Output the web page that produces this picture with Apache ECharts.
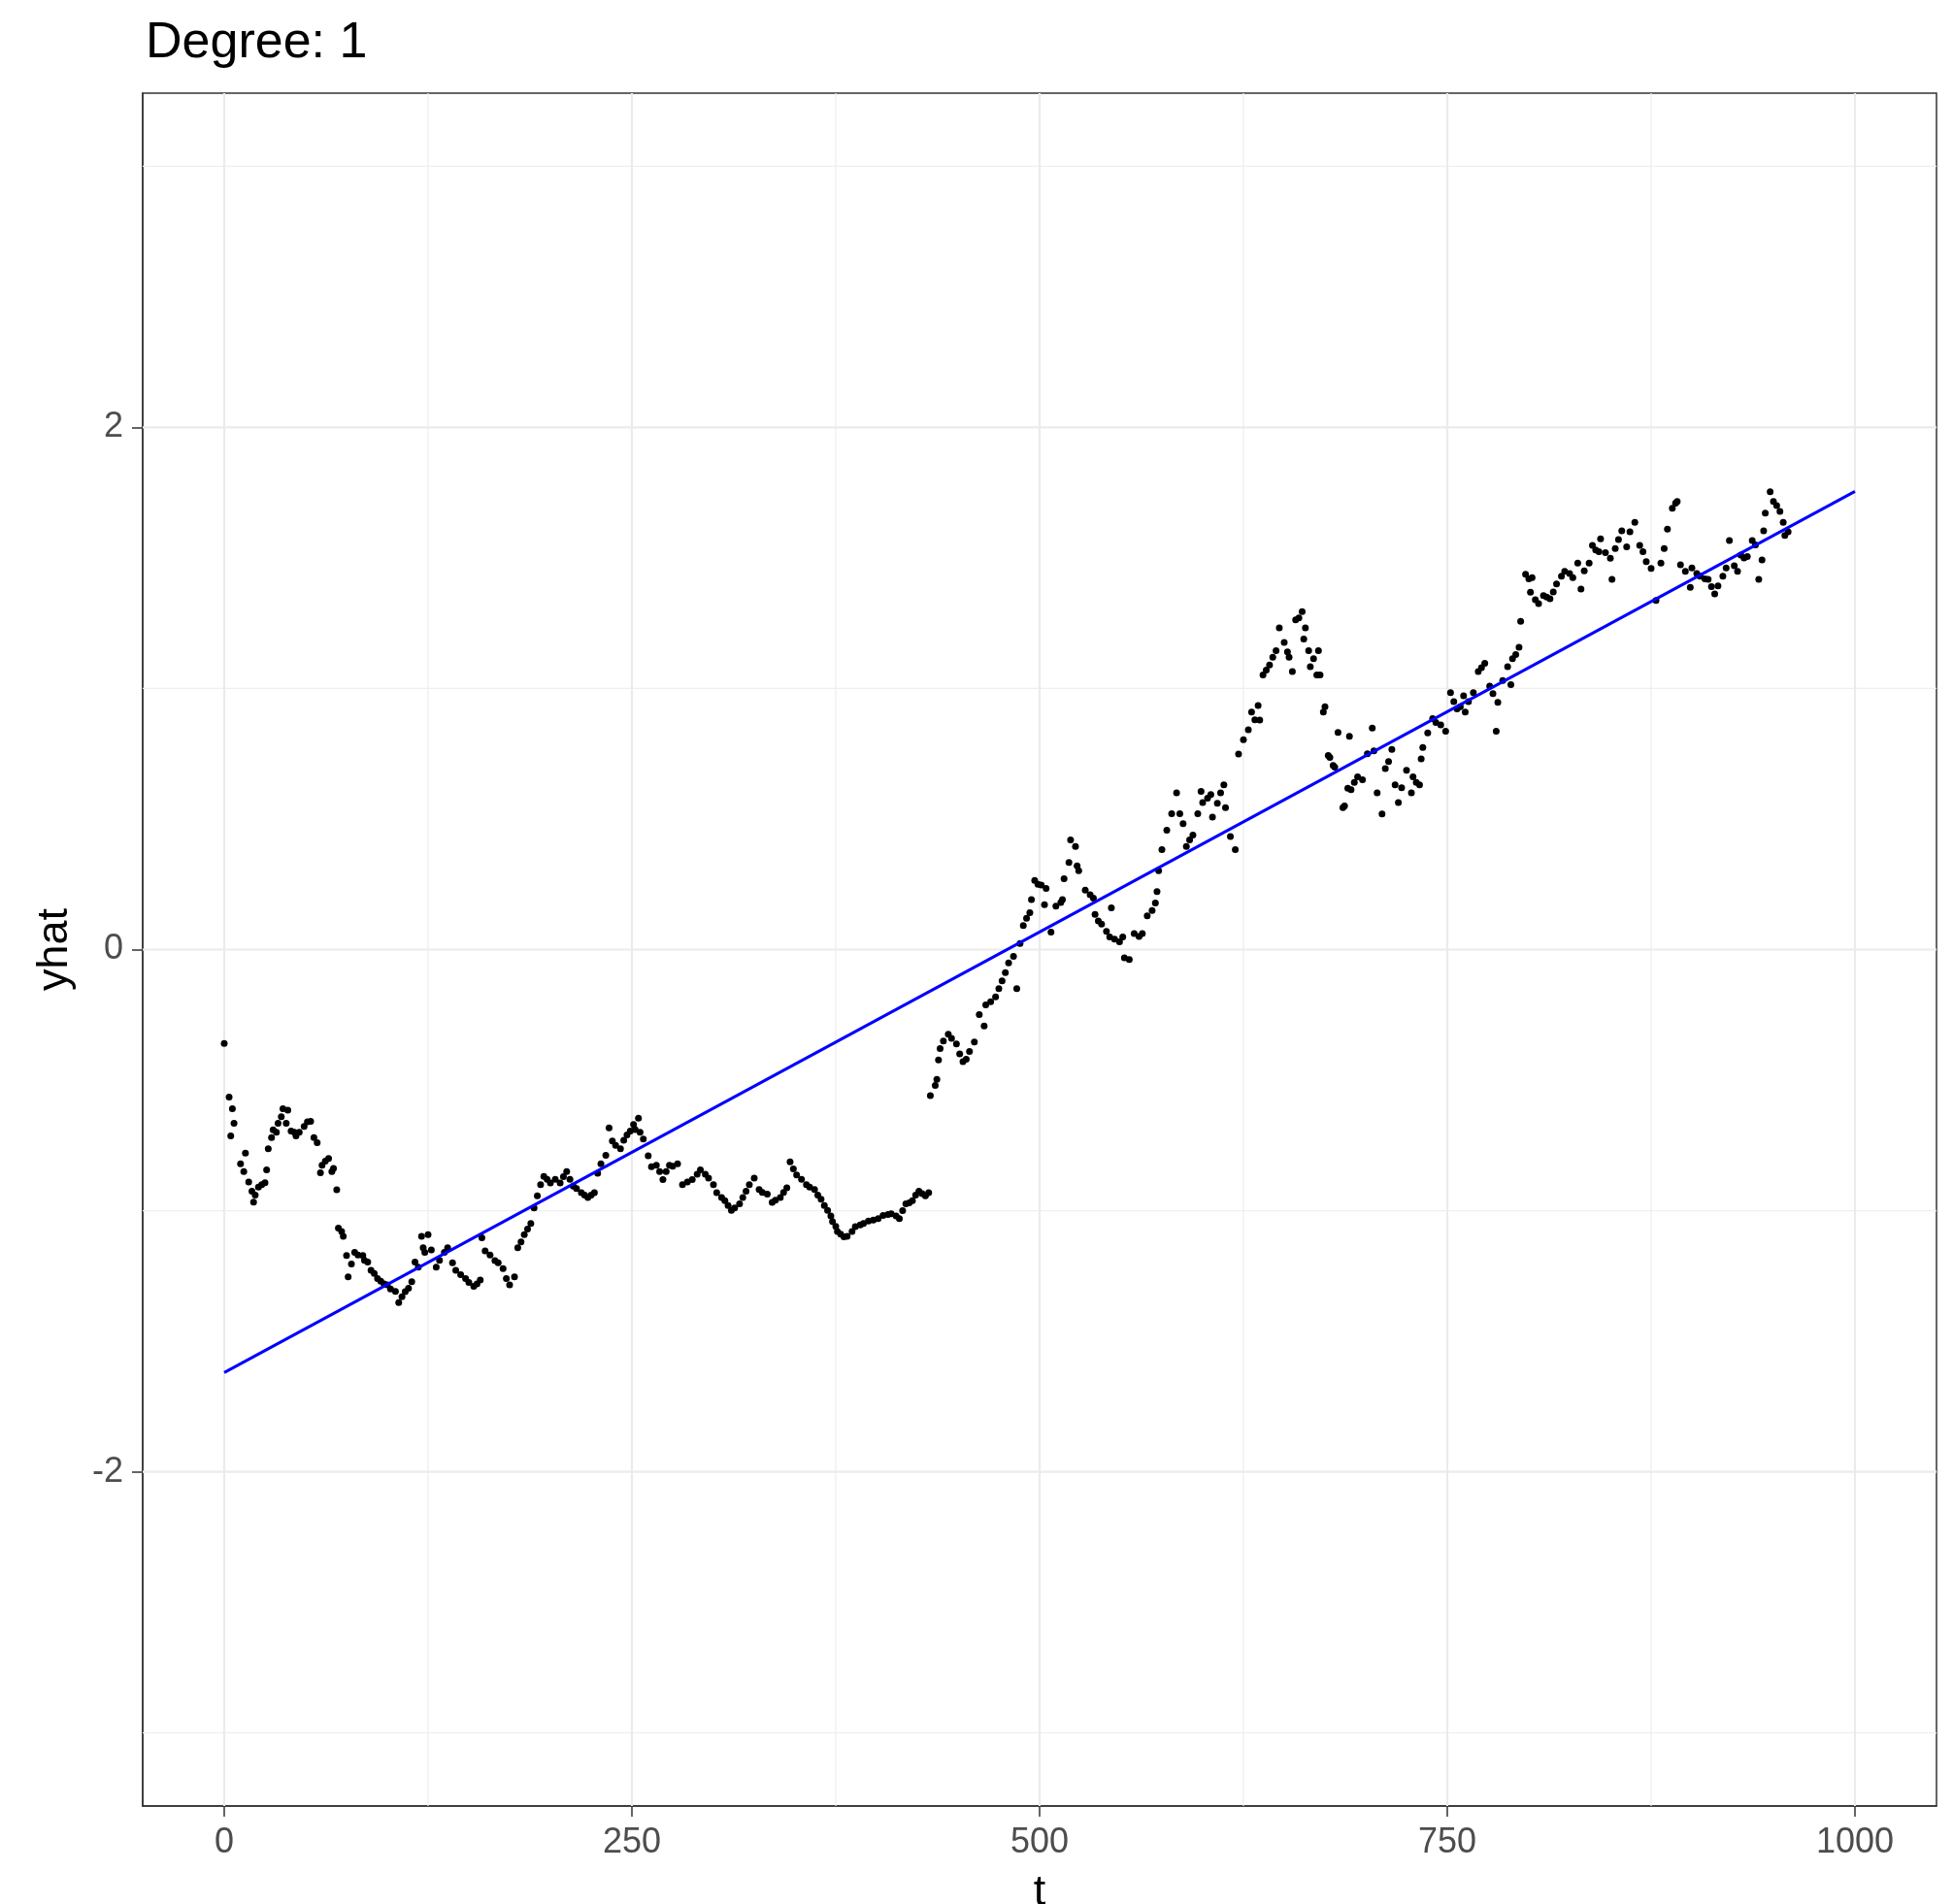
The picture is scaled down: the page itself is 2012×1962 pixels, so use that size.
<!DOCTYPE html>
<html><head><meta charset="utf-8">
<script src="https://cdn.jsdelivr.net/npm/echarts@6/dist/echarts.min.js"></script>
<style>html,body{margin:0;padding:0;background:#fff}#c{width:2012px;height:1962px}</style>
</head><body><div id="c"></div>
<script>
const titleText = 'Degree: 1';
const xName = 't';
const yName = 'yhat';
const xTicks = [0, 250, 500, 750, 1000];
const yTicks = [-2, 0, 2];
const xMinorGrid = [125, 375, 625, 875];
const yMinorGrid = [-3, -1, 1, 3];
const xLimits = [-50, 1050];
const yLimits = [-3.28, 3.28];

// points, in segments
const tA = [0,3,4,5,6,10,12,13,15,17,18,19,21,23,25,26,27,29,30,32,33,35,36,38,39,41,43,44,46,49,51,53,55,57,59,60,62,64,66,67,69,70,72,73,75,76,78,80,82,85,86,88,90,92,94,96,98,100,102,105,107,109,111,113,115,117];
const yA = [-0.36,-0.565,-0.714,-0.61,-0.665,-0.82,-0.85,-0.78,-0.89,-0.925,-0.967,-0.94,-0.91,-0.90,-0.893,-0.844,-0.763,-0.72,-0.69,-0.70,-0.665,-0.64,-0.61,-0.665,-0.615,-0.695,-0.70,-0.714,-0.70,-0.677,-0.66,-0.658,-0.72,-0.74,-0.855,-0.826,-0.81,-0.80,-0.85,-0.838,-0.92,-1.067,-1.08,-1.098,-1.172,-1.253,-1.204,-1.16,-1.17,-1.172,-1.19,-1.197,-1.228,-1.24,-1.26,-1.27,-1.28,-1.284,-1.30,-1.309,-1.352,-1.33,-1.31,-1.297,-1.272,-1.197];
const tB = [119,121,122,123,125,127,130,132,135,137,140,142,145,148,150,153,155,157,158,160,163,166,168,171,173,175,178,180,182,184,186,188,190,192,194,196,198,200,203,206,208,210,212,214,216,219,221,223,225,227,229,231,234,236,238,240,243,245,247,249];
const yB = [-1.216,-1.098,-1.142,-1.16,-1.092,-1.15,-1.216,-1.19,-1.16,-1.142,-1.20,-1.228,-1.245,-1.26,-1.275,-1.29,-1.28,-1.266,-1.104,-1.154,-1.17,-1.191,-1.20,-1.222,-1.26,-1.284,-1.253,-1.142,-1.12,-1.092,-1.07,-1.049,-0.99,-0.943,-0.90,-0.869,-0.88,-0.894,-0.88,-0.894,-0.87,-0.85,-0.88,-0.906,-0.915,-0.931,-0.94,-0.95,-0.94,-0.931,-0.857,-0.82,-0.788,-0.683,-0.733,-0.75,-0.763,-0.73,-0.71,-0.695];
const tC = [251,252,254,255,257,260,262,265,267,269,271,273,275,278,281,284,287,290,292,295,297,300,302,305,307,309,311,313,316,318,320,322,325,328,330,333,336,338,341,343,345,347,349,351,354,357,359,362,364,366,368,370,372,373,375,376,378,380,382,385,387,390,392,395,398,401,404,407,409,412,414,416,418,420,422,424,426,428,430,432];
const yC = [-0.67,-0.689,-0.646,-0.70,-0.726,-0.79,-0.832,-0.826,-0.85,-0.881,-0.85,-0.826,-0.83,-0.82,-0.90,-0.89,-0.881,-0.86,-0.844,-0.86,-0.875,-0.90,-0.931,-0.95,-0.962,-0.98,-0.999,-0.99,-0.974,-0.95,-0.925,-0.90,-0.875,-0.919,-0.93,-0.937,-0.968,-0.96,-0.95,-0.93,-0.912,-0.813,-0.84,-0.863,-0.88,-0.90,-0.91,-0.919,-0.94,-0.956,-0.98,-0.999,-1.02,-1.042,-1.06,-1.08,-1.09,-1.10,-1.098,-1.08,-1.061,-1.055,-1.049,-1.04,-1.036,-1.03,-1.018,-1.015,-1.012,-1.02,-1.03,-1.00,-0.974,-0.97,-0.962,-0.94,-0.925,-0.935,-0.943,-0.931];
const tD = [433,436,437,438,439,441,444,446,449,451,453,455,457,460,463,466,467,470,473,475,477,479,481,484,486,488,490,492,494,495,497,499,501,503,504,507,510,513,514,515,518,519,522,523,524,528,531,533,534,536,538,541,543,544,546,549,551];
const yD = [-0.559,-0.52,-0.497,-0.423,-0.379,-0.35,-0.324,-0.34,-0.361,-0.40,-0.429,-0.42,-0.39,-0.354,-0.249,-0.293,-0.212,-0.20,-0.181,-0.15,-0.12,-0.088,-0.051,-0.026,-0.15,0.023,0.092,0.12,0.141,0.191,0.265,0.25,0.247,0.172,0.234,0.067,0.166,0.18,0.191,0.271,0.334,0.42,0.395,0.321,0.302,0.228,0.21,0.197,0.135,0.11,0.098,0.07,0.048,0.16,0.04,0.03,0.048];
const tE = [552,555,558,561,563,566,569,571,572,573,575,578,581,584,586,588,590,592,594,597,599,600,603,605,606,609,611,613,614,617,620,622,625,628,630,632,634,635,637,639,641,643,645,647,650,652,653,655,657,659,661,662,663,665,666,668,670,671,672,674,675,677,678,680,681,683,686,687,689];
const yE = [-0.032,-0.038,0.061,0.05,0.061,0.129,0.15,0.178,0.222,0.302,0.383,0.457,0.52,0.6,0.52,0.482,0.395,0.42,0.439,0.52,0.606,0.563,0.58,0.594,0.507,0.56,0.60,0.631,0.544,0.433,0.383,0.749,0.804,0.842,0.91,0.88,0.935,0.879,1.052,1.07,1.09,1.12,1.145,1.232,1.176,1.14,1.12,1.065,1.263,1.27,1.294,1.189,1.232,1.145,1.083,1.114,1.052,1.145,1.052,0.91,0.93,0.743,0.736,0.705,0.699,0.832,0.544,0.55,0.618];
const tF = [690,691,693,695,698,701,704,705,707,710,712,714,716,718,720,722,725,728,729,731,733,734,735,738,741,743,746,749,752,754,756,758,760,761,763,766,769,771,773,776,778,780,781,784,787,789,790,792,794,795,798];
const yF = [0.817,0.612,0.64,0.662,0.65,0.75,0.848,0.761,0.6,0.519,0.693,0.72,0.767,0.631,0.563,0.62,0.687,0.6,0.662,0.64,0.631,0.73,0.774,0.83,0.885,0.87,0.86,0.836,0.984,0.95,0.922,0.93,0.972,0.91,0.95,0.984,1.065,1.08,1.096,1.009,0.98,0.836,0.947,1.03,1.083,1.015,1.114,1.13,1.158,1.257,1.437];
const tG = [800,801,802,804,806,809,811,813,815,817,820,822,825,827,830,832,834,837,839,841,843,844,847,850,851,853,855,857,860,862,865,868,870,872,875,878,881,883,885,888,890,891,893,896,899,900,903,905,908,910,912,914,916,919,921,923,926,928,930,932,934,937,939,941,943,944,945,948,950,952,954,956,957,959];
const yG = [1.42,1.369,1.424,1.34,1.325,1.356,1.35,1.344,1.37,1.40,1.43,1.449,1.44,1.424,1.48,1.381,1.45,1.48,1.548,1.53,1.524,1.573,1.52,1.499,1.418,1.536,1.57,1.604,1.542,1.60,1.636,1.548,1.524,1.486,1.46,1.337,1.48,1.536,1.61,1.69,1.71,1.716,1.474,1.449,1.387,1.462,1.44,1.43,1.42,1.418,1.39,1.362,1.393,1.43,1.462,1.567,1.47,1.449,1.511,1.50,1.505,1.567,1.55,1.418,1.492,1.604,1.672,1.753,1.716,1.70,1.678,1.636,1.586,1.60];

// fitted line (degree 1), end points
const fitT = [0, 1000];
const fitY = [-1.62, 1.755];

const FONT = '"Liberation Sans", Arial, Helvetica, sans-serif';

const pts = [];
[[tA,yA],[tB,yB],[tC,yC],[tD,yD],[tE,yE],[tF,yF],[tG,yG]].forEach(([ts, ys]) => {
  const n = Math.min(ts.length, ys.length);
  for (let i = 0; i < n; i++) pts.push([ts[i], ys[i]]);
});
const fitData = fitT.map((t, i) => [t, fitY[i]]);

function gridSeries(vals, dir, width, color) {
  return vals.map(v => ({
    type: 'line', silent: true, z: 1, symbol: 'none', showSymbol: false,
    data: dir === 'x' ? [[v, yLimits[0]], [v, yLimits[1]]] : [[xLimits[0], v], [xLimits[1], v]],
    lineStyle: {color: color, width: width}
  }));
}

const chart = echarts.init(document.getElementById('c'), null, {renderer: 'canvas'});
chart.setOption({
  animation: false,
  backgroundColor: '#ffffff',
  title: {
    text: titleText, left: 145, top: 14,
    textStyle: {fontSize: 52, fontWeight: 'normal', color: '#000', fontFamily: FONT}
  },
  grid: {left: 147, top: 96, width: 1848, height: 1765, show: true, borderColor: '#333333', borderWidth: 1.5, backgroundColor: '#fff', containLabel: false, outerBoundsMode: 'none'},
  xAxis: {
    type: 'value', min: xLimits[0], max: xLimits[1],
    splitLine: {show: false},
    axisLine: {show: true, onZero: false, lineStyle: {color: '#333333', width: 1.5}},
    axisTick: {show: true, customValues: xTicks, length: 11, inside: false, lineStyle: {color: '#333333', width: 1.5}},
    axisLabel: {customValues: xTicks, formatter: v => String(v), fontSize: 36, color: '#4D4D4D', margin: 20, fontFamily: FONT},
    name: xName, nameLocation: 'middle', nameGap: 67,
    nameTextStyle: {fontSize: 45, color: '#000', fontFamily: FONT}
  },
  yAxis: {
    type: 'value', min: yLimits[0], max: yLimits[1],
    splitLine: {show: false},
    axisLine: {show: true, onZero: false, lineStyle: {color: '#333333', width: 1.5}},
    axisTick: {show: true, customValues: yTicks, length: 11, inside: false, lineStyle: {color: '#333333', width: 1.5}},
    axisLabel: {customValues: yTicks, formatter: v => String(v), fontSize: 36, color: '#4D4D4D', margin: 20, fontFamily: FONT},
    name: yName, nameLocation: 'middle', nameGap: 68, nameRotate: 90,
    nameTextStyle: {fontSize: 45, color: '#000', fontFamily: FONT}
  },
  series: [
    ...gridSeries(xMinorGrid, 'x', 1.3, '#EFEFEF'),
    ...gridSeries(yMinorGrid, 'y', 1.3, '#EFEFEF'),
    ...gridSeries(xTicks, 'x', 2.2, '#EBEBEB'),
    ...gridSeries(yTicks, 'y', 2.2, '#EBEBEB'),
    {
      type: 'scatter', data: pts, z: 3, symbol: 'circle', symbolSize: 7,
      itemStyle: {color: '#000000', opacity: 1}
    },
    {
      type: 'line', data: fitData, z: 4, showSymbol: false, symbol: 'none',
      lineStyle: {color: '#0000FF', width: 3}
    }
  ]
});
</script>
</body></html>
